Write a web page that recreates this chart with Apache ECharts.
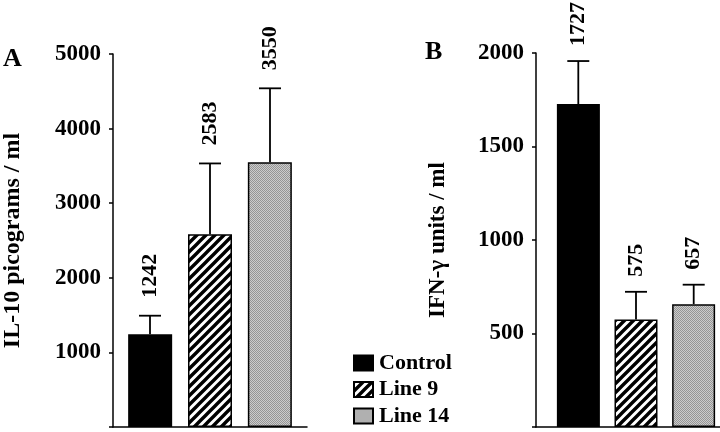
<!DOCTYPE html>
<html>
<head>
<meta charset="utf-8">
<script src="https://cdn.jsdelivr.net/npm/echarts@6/dist/echarts.min.js"></script>
<style>
  html, body { margin: 0; padding: 0; background: #fff; }
  #main { width: 720px; height: 432px; }
</style>
</head>
<body>
<div id="main"></div>
<script>
// groups shown in both panels
const groups = ['Control', 'Line 9', 'Line 14'];

// panel A: IL-10 (pg/ml)
const il10Mean = [1242, 2583, 3550];
const il10Err = [250, 950, 990];

// panel B: IFN-gamma (units/ml)
const ifnMean = [1727, 575, 657];
const ifnErr = [230, 148, 104];

const serif = 'Liberation Serif';

// fill patterns
function stripes() {
  const s = 9;
  const c = document.createElement('canvas');
  c.width = s; c.height = s;
  const ctx = c.getContext('2d');
  ctx.fillStyle = '#fff';
  ctx.fillRect(0, 0, s, s);
  ctx.strokeStyle = '#000';
  ctx.lineWidth = 3.4;
  ctx.beginPath();
  ctx.moveTo(-2, 2); ctx.lineTo(2, -2);
  ctx.moveTo(0, s); ctx.lineTo(s, 0);
  ctx.moveTo(s - 2, s + 2); ctx.lineTo(s + 2, s - 2);
  ctx.stroke();
  return c;
}
function stipple() {
  const c = document.createElement('canvas');
  c.width = 2; c.height = 2;
  const ctx = c.getContext('2d');
  ctx.fillStyle = '#cccccc';
  ctx.fillRect(0, 0, 2, 2);
  ctx.fillStyle = '#959595';
  ctx.fillRect(0, 0, 1, 1);
  ctx.fillRect(1, 1, 1, 1);
  return c;
}
const fills = [
  '#000',
  { image: stripes(), repeat: 'repeat' },
  { image: stipple(), repeat: 'repeat' }
];

let myChart = echarts.init(document.getElementById('main'));

function yAxisFor(grid, max, step, title, gap, titleSize) {
  return {
    type: 'value', gridIndex: grid, min: 0, max: max, interval: step,
    splitLine: { show: false },
    axisLine: { show: true, lineStyle: { color: '#000', width: 1.5 } },
    axisTick: { show: true, length: 4, lineStyle: { color: '#000', width: 1.5 } },
    axisLabel: {
      color: '#000', fontFamily: serif, fontWeight: 'bold', fontSize: 23, margin: 12,
      formatter: v => (v === 0 ? '' : v)
    },
    name: title, nameLocation: 'middle', nameRotate: 90, nameGap: gap,
    nameTextStyle: { color: '#000', fontFamily: serif, fontWeight: 'bold', fontSize: titleSize }
  };
}

function xAxisFor(grid) {
  return {
    type: 'category', gridIndex: grid, data: [''],
    axisLine: { show: true, lineStyle: { color: '#000', width: 1.5 } },
    axisTick: { show: false },
    axisLabel: { show: false }
  };
}

function barsFor(axis, means, barWidth, barGap) {
  return groups.map((g, i) => ({
    name: g,
    type: 'bar',
    xAxisIndex: axis, yAxisIndex: axis,
    barWidth: barWidth,
    barGap: barGap,
    itemStyle: { color: fills[i], borderColor: '#000', borderWidth: 1.5 },
    data: [means[i]]
  }));
}

// error bars and value labels, placed next to each bar of the group
function errorsFor(axis, means, errs, spacing, labelGap) {
  return {
    type: 'custom',
    xAxisIndex: axis, yAxisIndex: axis,
    encode: { x: 0, y: 1 },
    z: 3,
    data: groups.map((g, i) => [0, means[i], errs[i], i]),
    renderItem: function (params, api) {
      const v = api.value(1);
      const e = api.value(2);
      const k = api.value(3);
      const base = api.coord([0, v]);
      const top = api.coord([0, v + e]);
      const x = base[0] + (k - 1) * spacing;
      const half = 11;
      return {
        type: 'group',
        children: [
          { type: 'line', shape: { x1: x, y1: base[1], x2: x, y2: top[1] },
            style: { stroke: '#000', lineWidth: 1.8 } },
          { type: 'line', shape: { x1: x - half, y1: top[1], x2: x + half, y2: top[1] },
            style: { stroke: '#000', lineWidth: 1.8 } },
          { type: 'text', x: x, y: top[1] - labelGap, rotation: Math.PI / 2,
            style: { text: String(v), fill: '#000', fontFamily: serif,
              fontWeight: 'bold', fontSize: 22,
              align: 'left', verticalAlign: 'middle' } }
        ]
      };
    }
  };
}

let option = {
  animation: false,
  title: [
    { text: 'A', left: 3, top: 46, padding: 0,
      textStyle: { color: '#000', fontFamily: serif, fontWeight: 'bold', fontSize: 26 } },
    { text: 'B', left: 425, top: 39, padding: 0,
      textStyle: { color: '#000', fontFamily: serif, fontWeight: 'bold', fontSize: 26 } }
  ],
  legend: {
    data: groups,
    orient: 'vertical',
    left: 348, top: 347, height: 82,
    itemWidth: 19, itemHeight: 15, itemGap: 4.5,
    icon: 'rect',
    selectedMode: false,
    textStyle: { color: '#000', fontFamily: serif, fontWeight: 'bold', fontSize: 22,
      lineHeight: 22, padding: [0, 0, 0, 1] }
  },
  grid: [
    { left: 111, top: 54, width: 196, height: 373 },
    // panel B axes frame, and the narrower box the bars sit in
    { left: 536, top: 53, width: 184, height: 374 },
    { left: 552, top: 53, width: 168, height: 374 }
  ],
  xAxis: [xAxisFor(0), xAxisFor(1), { ...xAxisFor(2), show: false }],
  yAxis: [
    yAxisFor(0, 5000, 1000, 'IL-10 picograms / ml', 88, 24),
    yAxisFor(1, 2000, 500, 'IFN-\u03b3 units / ml', 86, 23),
    { type: 'value', gridIndex: 2, min: 0, max: 2000, show: false, splitLine: { show: false } }
  ],
  series: [
    ...barsFor(0, il10Mean, 44, '36%'),
    ...barsFor(2, ifnMean, 43, '34%'),
    errorsFor(0, il10Mean, il10Err, 60, 18),
    errorsFor(2, ifnMean, ifnErr, 57.7, 15)
  ]
};
option && myChart.setOption(option);
</script>
</body>
</html>
